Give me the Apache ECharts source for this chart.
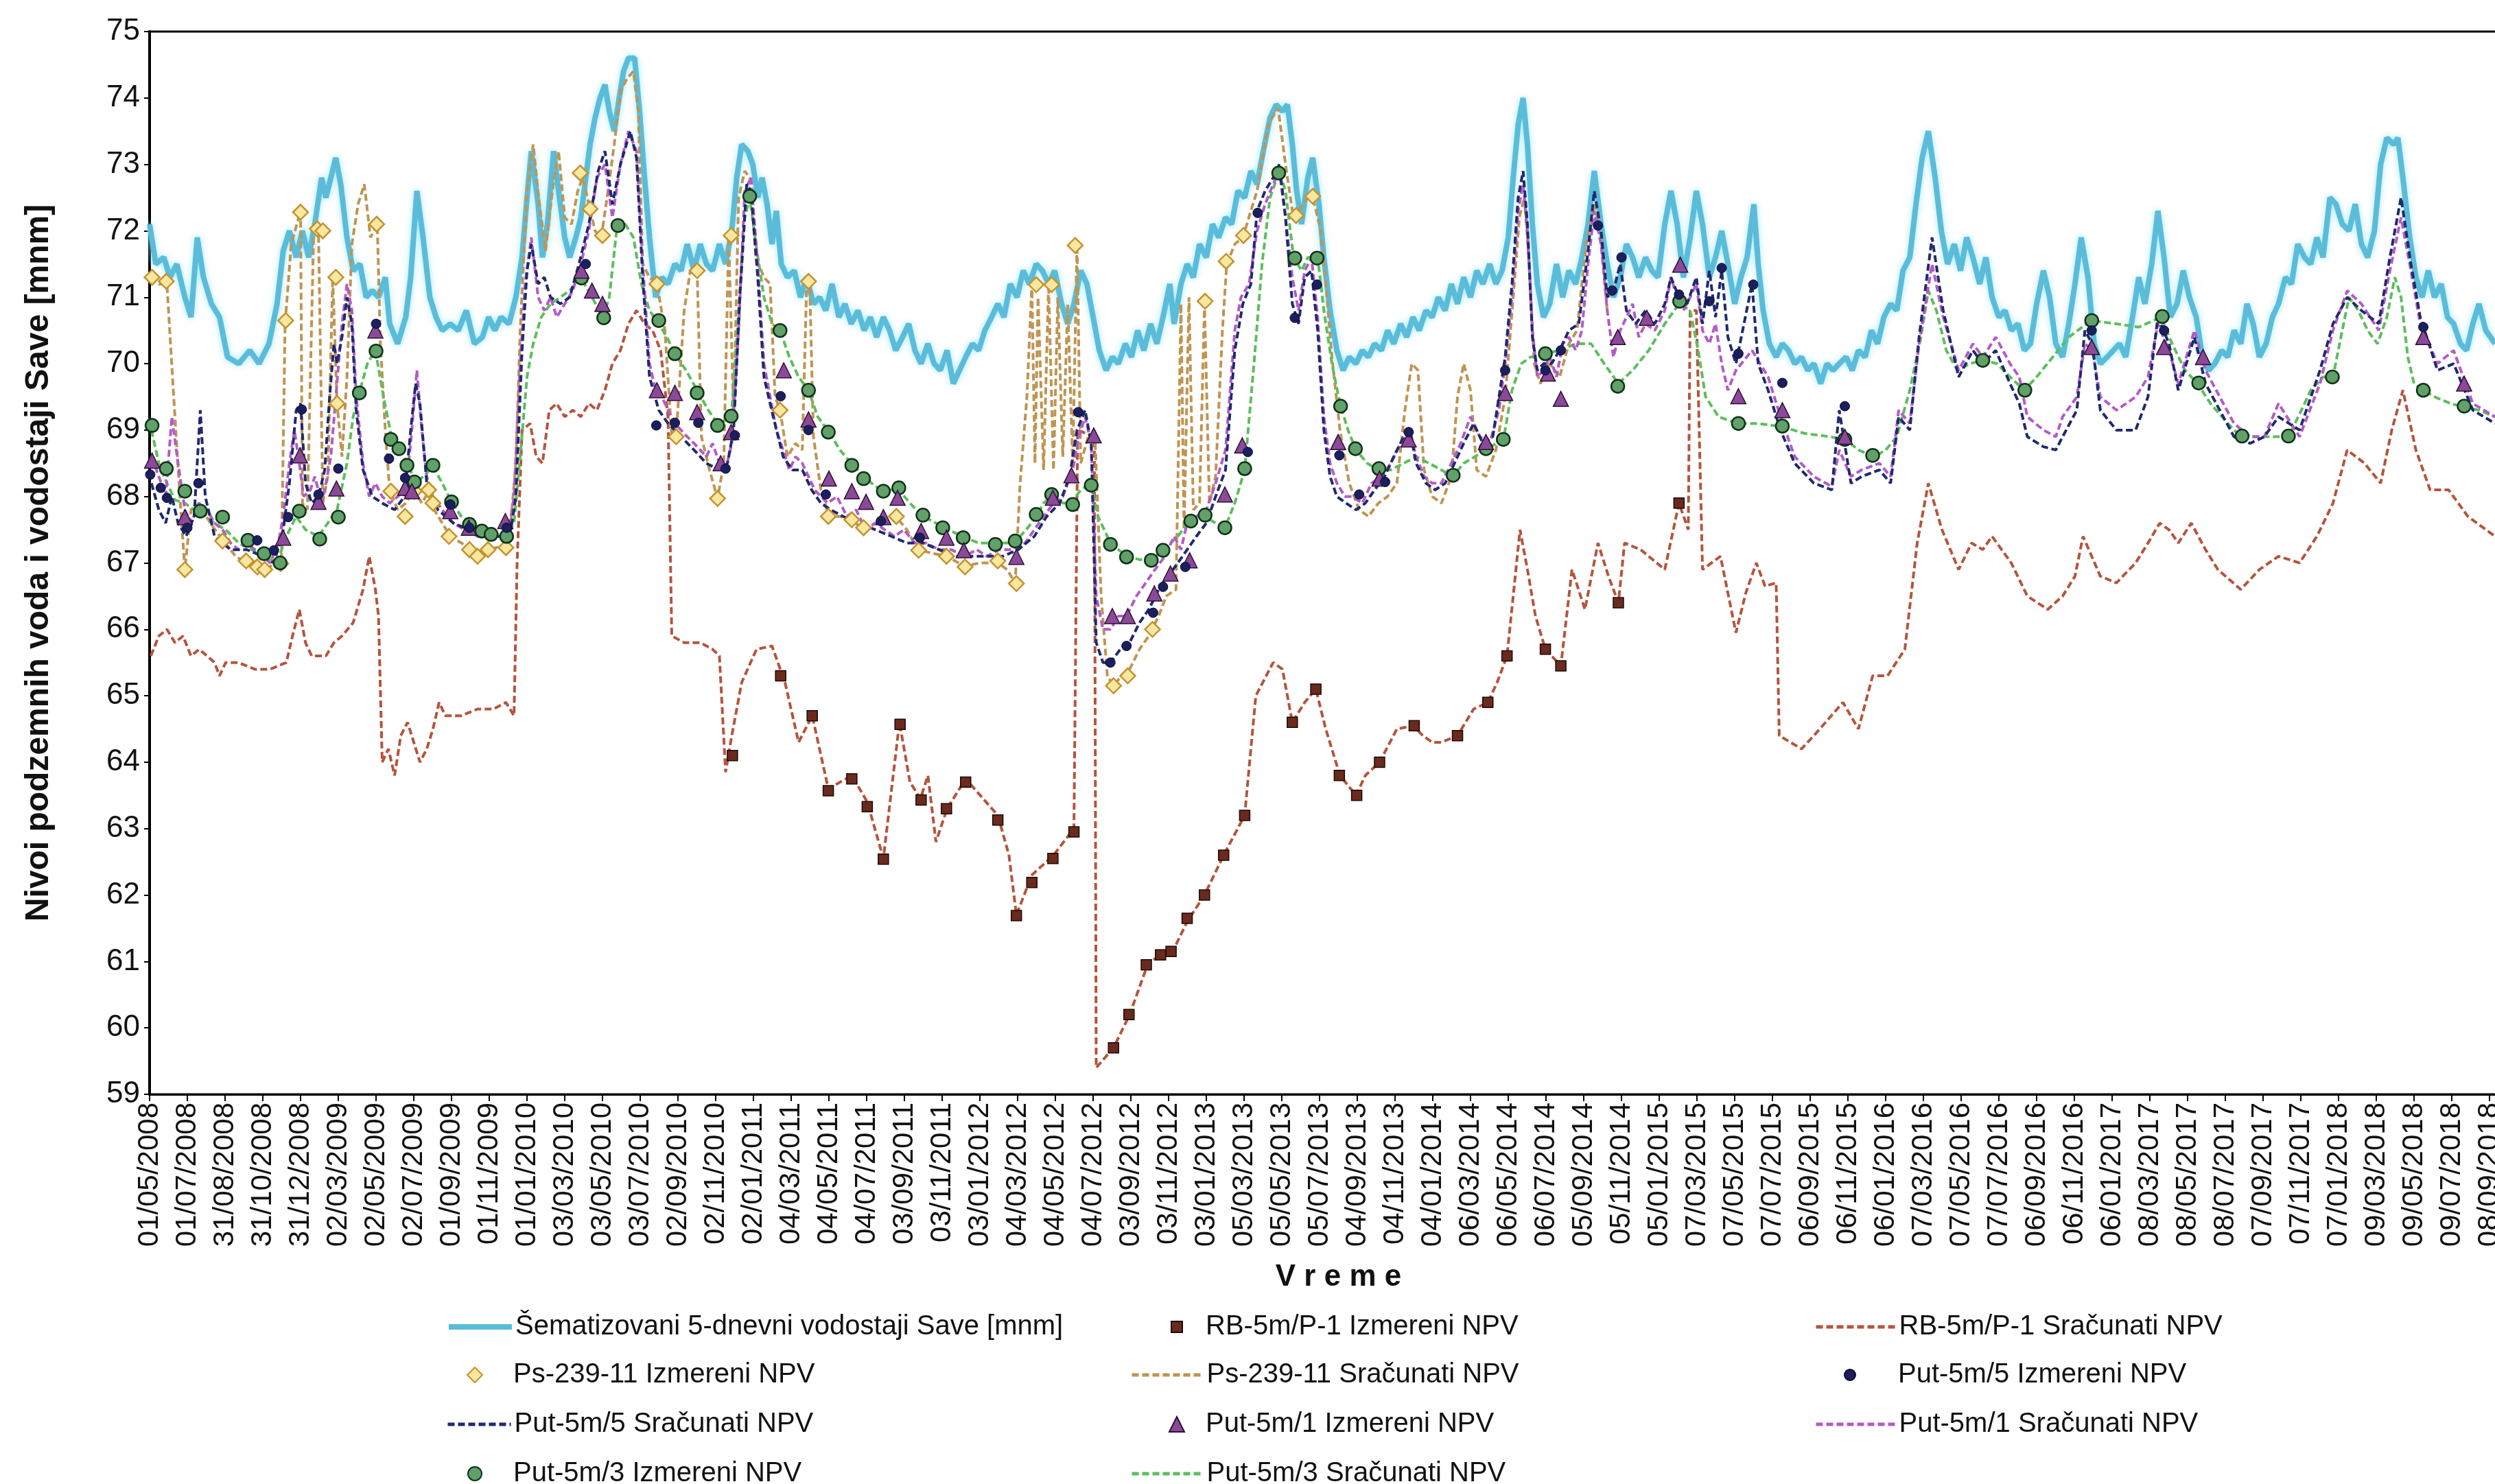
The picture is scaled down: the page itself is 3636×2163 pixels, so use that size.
<!DOCTYPE html>
<html>
<head>
<meta charset="utf-8">
<script src="https://cdn.jsdelivr.net/npm/echarts@6/dist/echarts.min.js"></script>
<style>
html,body{margin:0;background:#fff}
#chart{width:3636px;height:2163px}
</style>
</head>
<body>
<div id="chart"></div>
<script>
// x = days since 01/05/2008, y = level [mnm]
const tickLabels = ['01/05/2008','01/07/2008','31/08/2008','31/10/2008','31/12/2008','02/03/2009','02/05/2009','02/07/2009','01/09/2009','01/11/2009',
  '01/01/2010','03/03/2010','03/05/2010','03/07/2010','02/09/2010','02/11/2010','02/01/2011','04/03/2011','04/05/2011','04/07/2011',
  '03/09/2011','03/11/2011','03/01/2012','04/03/2012','04/05/2012','04/07/2012','03/09/2012','03/11/2012','03/01/2013','05/03/2013',
  '05/05/2013','05/07/2013','04/09/2013','04/11/2013','04/01/2014','06/03/2014','06/05/2014','06/07/2014','05/09/2014','05/11/2014',
  '05/01/2015','07/03/2015','07/05/2015','07/07/2015','06/09/2015','06/11/2015','06/01/2016','07/03/2016','07/05/2016','07/07/2016',
  '06/09/2016','06/11/2016','06/01/2017','08/03/2017','08/05/2017','08/07/2017','07/09/2017','07/11/2017','07/01/2018','09/03/2018',
  '09/05/2018','09/07/2018','08/09/2018'];

const savaLevels = [[0,72.1],[10,71.5],[23,71.6],[33,71.3],[44,71.5],[57,71.0],[67,70.7],[77,71.9],[87,71.3],[100,70.9],[113,70.7],[126,70.1],[144,70.0],[162,70.2],[177,70.0],[193,70.3],[206,70.9],[216,71.7],[226,72.0],[237,71.6],[247,72.0],[257,71.6],[267,72.1],[278,72.8],[285,72.5],[293,72.8],[301,73.1],[309,72.7],[319,71.9],[329,71.4],[340,71.5],[350,71.0],[360,71.1],[370,71.0],[381,71.3],[388,70.6],[401,70.3],[414,70.7],[422,71.3],[432,72.6],[442,71.9],[453,71.0],[463,70.7],[473,70.5],[486,70.6],[499,70.5],[512,70.8],[525,70.3],[538,70.4],[548,70.7],[558,70.5],[568,70.7],[581,70.6],[592,71.0],[602,71.6],[610,72.5],[617,73.2],[628,72.4],[635,71.6],[643,72.1],[653,73.2],[661,72.6],[671,71.9],[679,71.6],[689,71.9],[697,72.2],[705,72.8],[712,73.3],[720,73.7],[728,74.0],[736,74.2],[743,73.8],[751,73.5],[759,74.0],[766,74.4],[774,74.6],[784,74.6],[792,73.8],[800,72.8],[808,71.9],[818,71.0],[828,71.3],[838,71.2],[849,71.5],[859,71.4],[869,71.8],[880,71.4],[890,71.8],[900,71.5],[910,71.4],[921,71.8],[931,71.5],[941,72.0],[949,72.8],[957,73.3],[967,73.2],[975,73.0],[983,72.5],[990,72.8],[998,72.4],[1006,71.8],[1013,72.3],[1021,71.5],[1031,71.3],[1042,71.4],[1052,71.0],[1062,71.3],[1073,70.9],[1083,71.0],[1093,70.8],[1103,71.2],[1114,70.7],[1124,70.9],[1134,70.6],[1145,70.8],[1155,70.5],[1165,70.7],[1175,70.4],[1186,70.7],[1196,70.5],[1206,70.2],[1217,70.4],[1227,70.6],[1237,70.2],[1247,70.0],[1258,70.3],[1268,70.0],[1278,69.9],[1289,70.2],[1299,69.7],[1309,69.9],[1319,70.1],[1330,70.3],[1340,70.2],[1350,70.5],[1361,70.7],[1371,70.9],[1381,70.7],[1391,71.2],[1402,71.0],[1412,71.4],[1422,71.2],[1433,71.5],[1443,71.4],[1453,71.2],[1463,71.4],[1474,70.9],[1484,70.6],[1494,70.9],[1505,71.4],[1515,71.2],[1525,70.7],[1535,70.2],[1546,69.9],[1556,70.1],[1566,70.0],[1577,70.3],[1587,70.1],[1597,70.5],[1607,70.2],[1618,70.6],[1628,70.3],[1638,70.7],[1649,71.2],[1656,70.6],[1667,71.2],[1677,71.5],[1687,71.3],[1697,71.8],[1708,71.6],[1718,72.1],[1728,71.9],[1739,72.2],[1749,72.1],[1759,72.6],[1770,72.5],[1780,72.9],[1790,72.7],[1800,73.2],[1811,73.7],[1821,73.9],[1831,73.8],[1839,73.9],[1847,73.3],[1854,72.6],[1862,72.1],[1872,72.8],[1880,73.1],[1890,72.4],[1898,71.6],[1908,70.8],[1919,70.2],[1929,69.9],[1939,70.1],[1950,70.0],[1960,70.2],[1970,70.1],[1980,70.3],[1991,70.2],[2001,70.5],[2011,70.3],[2022,70.6],[2032,70.4],[2042,70.7],[2052,70.5],[2063,70.8],[2073,70.7],[2083,71.0],[2094,70.8],[2104,71.2],[2114,70.9],[2124,71.3],[2135,71.0],[2145,71.4],[2155,71.2],[2166,71.5],[2176,71.2],[2186,71.4],[2196,71.9],[2204,72.8],[2212,73.6],[2220,74.0],[2227,73.3],[2235,72.1],[2243,71.2],[2253,70.7],[2263,70.9],[2274,71.5],[2284,71.0],[2294,71.4],[2305,71.2],[2315,71.6],[2325,72.1],[2335,72.9],[2346,72.1],[2356,71.5],[2366,71.0],[2377,71.3],[2387,71.8],[2397,71.6],[2407,71.3],[2418,71.6],[2428,71.4],[2438,71.3],[2449,72.1],[2459,72.6],[2469,72.1],[2479,71.3],[2490,71.9],[2500,72.6],[2510,72.1],[2521,71.3],[2531,71.6],[2541,72.0],[2551,71.5],[2562,70.9],[2572,71.3],[2582,71.6],[2593,72.4],[2600,71.5],[2608,70.8],[2618,70.3],[2629,70.1],[2639,70.3],[2649,70.2],[2659,70.0],[2670,70.1],[2680,69.9],[2690,70.0],[2701,69.7],[2711,70.0],[2721,69.9],[2731,70.0],[2742,70.1],[2752,69.9],[2762,70.2],[2773,70.1],[2783,70.5],[2793,70.3],[2803,70.7],[2814,70.9],[2824,70.8],[2834,71.4],[2845,71.6],[2855,72.4],[2865,73.1],[2875,73.5],[2886,72.8],[2896,72.0],[2906,71.5],[2917,71.8],[2927,71.4],[2937,71.9],[2947,71.6],[2958,71.2],[2968,71.6],[2978,71.0],[2989,70.7],[2999,70.8],[3009,70.5],[3020,70.6],[3030,70.2],[3040,70.3],[3050,70.9],[3061,71.4],[3071,71.0],[3081,70.3],[3092,70.1],[3102,70.6],[3112,71.2],[3122,71.9],[3133,71.3],[3143,70.3],[3153,70.0],[3164,70.1],[3174,70.2],[3184,70.3],[3194,70.1],[3205,70.7],[3215,71.3],[3225,70.9],[3236,71.5],[3246,72.3],[3256,71.6],[3266,70.7],[3277,70.9],[3287,71.4],[3297,71.0],[3308,70.7],[3318,70.1],[3328,69.9],[3338,70.0],[3349,70.2],[3359,70.1],[3369,70.5],[3380,70.3],[3390,70.9],[3400,70.6],[3410,70.1],[3421,70.3],[3431,70.7],[3441,70.9],[3452,71.3],[3462,71.2],[3472,71.8],[3483,71.6],[3493,71.5],[3503,71.9],[3513,71.6],[3524,72.5],[3534,72.4],[3544,72.1],[3555,72.0],[3565,72.4],[3575,71.8],[3585,71.6],[3596,72.0],[3606,73.0],[3616,73.4],[3627,73.3],[3634,73.4],[3642,72.8],[3653,71.9],[3663,71.3],[3673,71.0],[3683,71.4],[3693,71.0],[3704,71.2],[3714,70.7],[3724,70.6],[3735,70.3],[3745,70.2],[3755,70.6],[3765,70.9],[3776,70.5],[3791,70.3]];

const rbCalc = [[2,65.6],[15,65.9],[28,66.0],[41,65.8],[54,65.9],[67,65.6],[80,65.7],[93,65.6],[105,65.5],[113,65.3],[123,65.5],[144,65.5],[170,65.4],[195,65.4],[221,65.5],[231,65.9],[242,66.3],[252,65.8],[262,65.6],[285,65.6],[298,65.8],[311,65.9],[329,66.1],[345,66.6],[355,67.1],[365,66.6],[370,66.2],[376,64.0],[386,64.2],[396,63.8],[406,64.4],[417,64.6],[427,64.3],[437,64.0],[448,64.2],[458,64.5],[468,64.9],[478,64.7],[504,64.7],[530,64.8],[556,64.8],[576,64.9],[589,64.7],[594,67.0],[602,69.0],[615,69.1],[625,68.6],[635,68.5],[646,69.3],[658,69.4],[671,69.2],[684,69.3],[697,69.2],[710,69.4],[723,69.3],[736,69.6],[748,70.0],[761,70.2],[774,70.6],[787,70.8],[800,70.6],[813,70.5],[826,70.2],[838,69.2],[844,65.9],[864,65.8],[890,65.8],[910,65.7],[921,65.6],[931,63.85],[941,64.4],[957,65.2],[981,65.7],[1006,65.75],[1027,65.2],[1049,64.3],[1071,64.7],[1097,63.6],[1135,63.8],[1160,63.4],[1186,62.55],[1212,64.6],[1229,63.7],[1246,63.45],[1258,63.8],[1271,62.8],[1289,63.3],[1319,63.75],[1371,63.2],[1389,62.6],[1401,61.7],[1426,62.3],[1461,62.6],[1494,63.0],[1500,69.0],[1527,68.9],[1530,59.4],[1558,59.7],[1584,60.2],[1613,60.95],[1633,61.1],[1651,61.1],[1677,61.6],[1705,62.0],[1736,62.6],[1770,63.2],[1788,65.0],[1816,65.5],[1831,65.4],[1847,64.6],[1867,64.9],[1885,65.1],[1901,64.5],[1924,63.8],[1950,63.5],[1965,63.8],[1988,64.0],[2016,64.5],[2042,64.55],[2058,64.4],[2073,64.3],[2088,64.3],[2114,64.4],[2140,64.8],[2163,64.9],[2178,65.2],[2194,65.6],[2204,66.5],[2215,67.5],[2227,66.9],[2240,66.2],[2256,65.7],[2281,65.45],[2299,66.9],[2320,66.3],[2341,67.3],[2358,66.8],[2374,66.4],[2384,67.3],[2410,67.2],[2449,66.9],[2472,67.9],[2487,67.5],[2490,70.8],[2500,70.8],[2510,66.9],[2539,67.1],[2564,65.95],[2580,66.55],[2597,67.0],[2611,66.65],[2629,66.7],[2634,64.4],[2670,64.2],[2690,64.4],[2737,64.9],[2762,64.5],[2785,65.3],[2809,65.3],[2837,65.7],[2857,67.3],[2875,68.2],[2897,67.5],[2924,66.9],[2945,67.3],[2963,67.2],[2978,67.4],[3009,67.0],[3035,66.5],[3068,66.3],[3092,66.5],[3112,66.8],[3125,67.4],[3153,66.8],[3179,66.7],[3210,67.0],[3230,67.3],[3249,67.6],[3264,67.5],[3279,67.3],[3300,67.6],[3323,67.2],[3343,66.9],[3380,66.6],[3410,66.9],[3441,67.1],[3475,67.0],[3503,67.4],[3529,67.9],[3552,68.7],[3580,68.5],[3606,68.2],[3624,69.0],[3642,69.6],[3663,68.7],[3686,68.1],[3716,68.1],[3747,67.7],[3791,67.4]];

const rbMeasured = [[942,64.1],[1020,65.3],[1071,64.7],[1097,63.57],[1135,63.75],[1160,63.33],[1186,62.54],[1213,64.57],[1247,63.43],[1288,63.3],[1319,63.7],[1371,63.13],[1401,61.69],[1426,62.19],[1460,62.55],[1494,62.95],[1558,59.7],[1583,60.2],[1611,60.95],[1634,61.1],[1651,61.15],[1677,61.65],[1705,62.0],[1736,62.6],[1770,63.2],[1847,64.6],[1885,65.1],[1923,63.8],[1951,63.5],[1988,64.0],[2044,64.55],[2114,64.4],[2163,64.9],[2194,65.6],[2256,65.7],[2281,65.45],[2374,66.4],[2472,67.9]];

const psCalc = [[2,71.3],[15,71.2],[28,71.2],[39,69.5],[49,68.0],[57,66.9],[67,67.8],[80,67.9],[98,67.6],[118,67.35],[139,67.1],[157,67.0],[175,66.95],[188,66.9],[203,67.0],[213,67.0],[219,70.6],[229,71.8],[244,72.3],[247,67.9],[255,67.8],[265,71.9],[273,72.0],[280,67.9],[288,68.3],[296,71.3],[303,69.4],[311,68.6],[319,69.8],[327,71.8],[337,72.4],[347,72.7],[357,71.9],[368,72.1],[373,70.3],[381,69.0],[388,68.1],[401,67.8],[414,67.9],[427,68.1],[440,67.9],[453,68.1],[460,67.8],[473,67.6],[486,67.4],[504,67.3],[520,67.2],[535,67.1],[550,67.2],[566,67.25],[581,67.3],[592,68.5],[599,70.5],[610,72.6],[620,73.3],[630,72.4],[640,71.7],[651,72.6],[661,73.2],[671,72.2],[682,72.1],[692,72.6],[700,72.8],[710,72.4],[720,72.0],[730,71.9],[741,72.6],[751,73.3],[761,74.1],[772,74.3],[782,74.4],[790,73.8],[797,71.5],[808,71.3],[820,71.2],[833,70.5],[844,68.9],[851,68.9],[864,70.8],[874,71.4],[885,71.4],[892,68.9],[905,68.4],[918,67.97],[928,68.5],[936,71.9],[944,69.2],[952,72.5],[962,72.9],[970,72.8],[980,71.6],[993,71.3],[1003,71.2],[1011,69.5],[1019,69.3],[1031,68.6],[1044,68.8],[1055,68.7],[1062,71.2],[1067,71.2],[1073,68.9],[1085,68.1],[1098,67.7],[1116,67.7],[1134,67.65],[1155,67.5],[1173,67.6],[1191,67.7],[1206,67.7],[1224,67.5],[1242,67.2],[1263,67.15],[1289,67.1],[1317,66.95],[1342,67.0],[1371,67.0],[1386,66.9],[1399,66.7],[1407,68.2],[1418,69.5],[1426,71.2],[1431,68.5],[1436,71.0],[1445,68.4],[1453,71.2],[1461,68.4],[1468,71.0],[1476,68.6],[1484,70.9],[1492,68.5],[1499,71.8],[1505,68.5],[1517,68.9],[1528,68.9],[1538,66.5],[1548,65.3],[1558,65.15],[1571,65.3],[1584,65.4],[1600,65.7],[1615,65.9],[1631,66.2],[1643,66.5],[1659,66.6],[1667,70.9],[1672,67.5],[1680,71.0],[1687,67.8],[1697,67.9],[1705,70.9],[1713,67.9],[1723,68.3],[1734,70.5],[1741,71.5],[1754,71.8],[1767,71.9],[1780,72.3],[1790,72.6],[1808,73.6],[1824,73.85],[1836,73.0],[1847,72.3],[1857,72.3],[1872,72.5],[1883,72.4],[1893,72.0],[1903,71.0],[1911,70.1],[1924,69.0],[1939,68.2],[1955,67.8],[1970,67.7],[1986,67.9],[2001,68.0],[2016,68.2],[2029,69.3],[2040,70.0],[2050,69.9],[2060,68.4],[2073,68.0],[2088,67.9],[2104,68.3],[2114,69.5],[2124,70.0],[2135,69.6],[2145,68.4],[2160,68.3],[2176,68.7],[2191,69.5],[2204,71.0],[2214,72.2],[2222,72.5],[2230,71.5],[2238,70.0],[2248,69.7],[2263,70.0],[2279,69.8],[2294,70.3],[2307,70.5],[2322,71.8],[2335,72.4],[2346,71.9],[2356,70.8]];

const psMeasured = [[4,71.3],[27,71.24],[57,66.9],[118,67.33],[156,67.03],[174,66.94],[186,66.9],[212,66.99],[220,70.65],[244,72.28],[271,72.03],[280,72.0],[301,71.3],[303,69.4],[367,72.1],[390,68.08],[413,67.7],[428,68.08],[451,68.1],[458,67.9],[484,67.4],[517,67.2],[530,67.1],[547,67.2],[576,67.23],[696,72.87],[712,72.33],[732,71.93],[820,71.2],[851,68.9],[885,71.4],[918,67.97],[940,71.93],[1019,69.3],[1065,71.24],[1097,67.7],[1135,67.65],[1154,67.53],[1207,67.7],[1243,67.19],[1288,67.1],[1318,66.94],[1371,67.03],[1401,66.69],[1433,71.19],[1458,71.19],[1496,71.78],[1558,65.15],[1581,65.3],[1621,66.0],[1706,70.94],[1740,71.54],[1768,71.93],[1853,72.23],[1880,72.52]];

const put5Calc = [[3,68.2],[15,67.8],[26,67.6],[36,68.0],[46,67.6],[59,67.4],[72,67.7],[82,69.3],[90,68.0],[105,67.4],[131,67.2],[157,67.2],[183,67.1],[201,67.0],[216,67.5],[226,68.2],[237,69.3],[244,69.4],[252,68.2],[262,67.9],[273,68.0],[283,68.4],[291,69.5],[298,70.3],[303,70.0],[311,70.4],[319,71.0],[327,70.6],[334,69.3],[345,68.4],[360,68.0],[376,67.9],[396,67.8],[412,68.0],[422,69.0],[430,69.7],[437,69.4],[448,68.2],[466,67.8],[491,67.6],[517,67.5],[543,67.4],[568,67.4],[584,67.5],[592,68.0],[602,70.2],[610,71.4],[617,71.8],[628,71.2],[638,71.3],[648,71.0],[664,70.9],[679,71.0],[694,71.5],[710,72.1],[725,72.9],[736,73.2],[748,72.4],[761,73.0],[777,73.5],[787,73.1],[797,71.3],[808,69.8],[823,69.3],[838,69.1],[859,68.9],[880,68.7],[900,68.5],[921,68.4],[934,68.5],[944,69.0],[954,71.0],[965,72.7],[972,72.6],[983,71.3],[993,69.8],[1008,69.2],[1024,68.6],[1039,68.4],[1055,68.4],[1070,68.1],[1085,67.9],[1101,67.8],[1121,67.7],[1147,67.6],[1173,67.5],[1199,67.4],[1224,67.3],[1250,67.3],[1276,67.2],[1301,67.1],[1327,67.1],[1353,67.1],[1379,67.1],[1404,67.2],[1430,67.4],[1450,67.7],[1471,67.9],[1487,68.3],[1499,69.0],[1512,69.3],[1522,68.8],[1530,65.8],[1541,65.5],[1553,65.5],[1569,65.7],[1584,65.8],[1600,66.1],[1615,66.3],[1631,66.6],[1646,66.8],[1662,67.0],[1677,67.2],[1692,67.4],[1708,67.6],[1723,68.0],[1739,68.4],[1754,70.2],[1767,70.9],[1780,71.2],[1790,72.3],[1803,72.6],[1816,72.8],[1826,73.0],[1836,72.2],[1847,70.9],[1857,70.6],[1867,71.3],[1878,71.4],[1888,70.5],[1898,69.0],[1908,68.3],[1919,68.0],[1934,67.9],[1950,67.8],[1965,67.9],[1980,68.1],[1996,68.3],[2011,68.6],[2027,68.9],[2037,69.0],[2047,68.5],[2063,68.2],[2078,68.1],[2094,68.2],[2109,68.5],[2124,68.8],[2140,69.1],[2155,68.8],[2171,68.9],[2181,69.5],[2191,70.1],[2202,71.2],[2212,72.5],[2220,72.9],[2227,72.1],[2235,70.4],[2243,69.9],[2253,70.0],[2266,70.0],[2279,70.2],[2294,70.5],[2310,70.6],[2325,71.7],[2335,72.6],[2346,72.0],[2356,71.0],[2366,71.1],[2377,71.5],[2387,70.8],[2402,70.6],[2418,70.8],[2433,70.6],[2449,70.9],[2459,71.3],[2472,71.0],[2485,70.9],[2500,71.3],[2510,70.6],[2521,71.4],[2531,70.7],[2541,71.4],[2551,70.4],[2564,70.0],[2590,71.2],[2600,70.0],[2616,69.6],[2636,69.0],[2659,68.5],[2690,68.2],[2719,68.1],[2731,69.3],[2750,68.2],[2767,68.3],[2796,68.4],[2814,68.2],[2827,69.2],[2845,69.0],[2860,70.4],[2881,71.9],[2899,70.8],[2924,69.8],[2947,70.2],[2963,70.0],[2984,70.2],[3007,69.7],[3022,69.4],[3035,68.9],[3061,68.75],[3081,68.7],[3092,68.9],[3115,69.3],[3128,70.5],[3140,70.3],[3153,69.3],[3179,69.0],[3210,69.0],[3230,69.5],[3246,70.7],[3264,70.3],[3279,69.6],[3305,70.4],[3323,69.7],[3346,69.3],[3369,68.9],[3395,68.8],[3418,68.9],[3441,69.2],[3475,69.0],[3508,69.9],[3529,70.6],[3552,71.0],[3575,70.8],[3603,70.6],[3621,71.6],[3639,72.5],[3655,71.5],[3670,70.7],[3698,69.9],[3724,70.0],[3755,69.3],[3791,69.1]];

const put5Measured = [[1,68.33],[18,68.13],[28,67.98],[61,67.53],[79,68.2],[174,67.34],[201,67.19],[224,67.69],[246,69.31],[273,68.03],[305,68.42],[366,70.6],[387,68.57],[413,68.28],[486,67.88],[517,67.53],[577,67.53],[705,71.5],[819,69.07],[849,69.11],[887,69.11],[931,68.42],[946,68.92],[1020,69.51],[1065,69.0],[1093,68.03],[1182,67.63],[1245,67.38],[1501,69.27],[1553,65.5],[1579,65.75],[1622,66.25],[1638,66.64],[1674,66.94],[1775,68.67],[1791,72.27],[1851,70.69],[1887,71.19],[1923,68.62],[1955,68.03],[1997,68.22],[2035,68.97],[2191,69.9],[2256,69.9],[2281,70.2],[2341,72.08],[2364,71.1],[2379,71.6],[2472,71.04],[2521,70.94],[2541,71.44],[2568,70.15],[2592,71.19],[2639,69.71],[2740,69.36],[3139,70.5],[3256,70.5],[3675,70.55]];

const put1Calc = [[3,68.6],[15,68.3],[26,68.0],[36,69.2],[46,68.5],[57,67.8],[67,67.6],[80,67.9],[93,67.8],[105,67.6],[118,67.5],[131,67.3],[144,67.2],[157,67.3],[170,67.2],[183,67.1],[195,67.0],[208,67.3],[216,67.7],[226,68.5],[234,69.0],[242,68.5],[249,68.0],[260,68.1],[267,68.3],[278,67.9],[285,68.2],[293,68.6],[301,69.5],[311,70.6],[319,71.2],[327,70.8],[334,69.5],[345,68.5],[355,68.0],[365,68.2],[376,68.0],[388,67.9],[401,68.0],[414,68.1],[422,68.8],[432,69.9],[440,69.0],[448,68.3],[458,68.0],[473,67.8],[491,67.6],[509,67.5],[530,67.4],[550,67.4],[568,67.4],[581,67.5],[589,68.0],[599,70.0],[607,71.2],[617,71.9],[628,71.0],[638,70.8],[648,71.0],[658,70.7],[671,70.9],[684,71.1],[697,71.5],[710,72.0],[723,72.8],[736,73.0],[748,72.2],[761,73.0],[774,73.5],[787,73.2],[797,71.5],[808,70.0],[818,69.6],[828,69.5],[838,69.3],[849,69.1],[859,69.0],[869,68.9],[880,68.8],[890,68.7],[900,68.6],[910,68.8],[921,68.5],[931,68.4],[941,68.8],[952,70.5],[962,72.6],[972,72.8],[983,71.5],[993,70.0],[1003,69.5],[1013,69.0],[1024,68.7],[1034,68.4],[1044,68.6],[1055,68.5],[1065,68.3],[1075,68.1],[1085,68.0],[1096,67.9],[1111,68.0],[1127,67.7],[1142,67.8],[1157,67.5],[1173,67.6],[1188,67.5],[1204,67.4],[1219,67.5],[1237,67.3],[1255,67.3],[1276,67.2],[1296,67.2],[1317,67.1],[1337,67.2],[1353,67.1],[1373,67.2],[1394,67.2],[1415,67.3],[1430,67.5],[1445,67.7],[1461,67.9],[1476,68.0],[1492,68.4],[1502,68.9],[1512,69.2],[1522,68.8],[1530,66.5],[1541,66.0],[1553,66.0],[1566,66.2],[1579,66.2],[1595,66.5],[1610,66.7],[1625,66.9],[1641,67.1],[1656,67.4],[1667,67.2],[1677,67.6],[1692,67.7],[1708,67.8],[1723,68.2],[1739,68.7],[1754,70.5],[1764,71.0],[1777,71.2],[1790,72.0],[1803,72.4],[1816,72.7],[1826,72.9],[1836,72.2],[1847,71.3],[1857,70.8],[1867,71.4],[1878,71.6],[1888,70.7],[1898,69.2],[1908,68.5],[1919,68.2],[1932,68.0],[1944,68.0],[1960,67.9],[1975,68.2],[1991,68.3],[2006,68.5],[2022,68.8],[2037,69.0],[2047,68.6],[2060,68.3],[2073,68.2],[2088,68.2],[2104,68.5],[2119,68.8],[2135,69.2],[2150,68.9],[2166,68.8],[2181,69.3],[2191,70.0],[2202,71.0],[2212,72.3],[2220,72.7],[2227,72.0],[2235,70.5],[2243,69.8],[2253,69.9],[2263,70.1],[2274,69.8],[2284,70.3],[2294,70.4],[2305,70.2],[2315,70.5],[2325,71.5],[2335,72.3],[2346,71.8],[2356,70.8],[2366,70.1],[2377,70.5],[2387,70.7],[2397,70.9],[2407,70.4],[2418,70.6],[2433,70.5],[2449,70.8],[2459,71.3],[2469,71.0],[2479,70.8],[2490,71.0],[2500,71.2],[2510,70.5],[2521,70.3],[2531,70.6],[2541,70.0],[2551,69.6],[2564,69.9],[2590,70.2],[2616,69.8],[2636,69.2],[2659,68.6],[2690,68.3],[2719,68.15],[2731,68.7],[2750,68.3],[2767,68.4],[2796,68.5],[2814,68.3],[2827,69.3],[2845,69.1],[2860,70.3],[2881,71.5],[2899,70.7],[2924,69.9],[2947,70.3],[2963,70.1],[2984,70.4],[3007,70.0],[3022,69.8],[3035,69.2],[3061,69.0],[3081,68.9],[3092,69.2],[3115,69.5],[3128,70.3],[3140,70.2],[3153,69.5],[3179,69.3],[3210,69.5],[3230,69.8],[3246,70.6],[3264,70.2],[3279,69.7],[3305,70.5],[3323,69.9],[3346,69.5],[3369,69.1],[3395,68.9],[3418,68.9],[3441,69.4],[3475,68.9],[3508,69.7],[3529,70.5],[3552,71.1],[3575,70.9],[3603,70.5],[3621,71.4],[3639,72.2],[3655,71.4],[3670,70.6],[3698,70.0],[3724,70.2],[3755,69.4],[3791,69.2]];

const put1Measured = [[4,68.54],[57,67.69],[216,67.38],[243,68.62],[273,67.92],[302,68.12],[365,70.5],[413,68.13],[424,68.08],[486,67.78],[516,67.53],[575,67.63],[698,71.4],[715,71.1],[732,70.9],[820,69.6],[849,69.56],[885,69.27],[923,68.5],[940,68.97],[1025,69.9],[1065,69.16],[1098,68.27],[1135,68.08],[1158,67.92],[1186,67.69],[1209,67.98],[1247,67.48],[1288,67.38],[1316,67.19],[1401,67.09],[1460,67.98],[1490,68.32],[1526,68.92],[1556,66.2],[1581,66.2],[1624,66.54],[1650,66.84],[1681,67.04],[1738,68.03],[1766,68.77],[1921,68.82],[1988,68.27],[2035,68.86],[2160,68.82],[2191,69.56],[2260,69.85],[2281,69.47],[2373,70.4],[2420,70.69],[2474,71.49],[2568,69.51],[2639,69.3],[2740,68.9],[3139,70.25],[3256,70.25],[3319,70.1],[3675,70.4],[3741,69.7]];

const put3Calc = [[3,69.0],[15,68.5],[28,68.2],[41,67.95],[57,67.9],[72,67.8],[87,67.75],[105,67.6],[123,67.5],[144,67.3],[165,67.2],[185,67.1],[206,67.0],[221,67.4],[237,67.7],[252,67.5],[273,67.4],[288,67.6],[303,67.8],[319,68.5],[329,69.2],[340,69.6],[352,70.0],[365,70.2],[378,69.5],[391,68.9],[404,68.7],[417,68.5],[430,68.2],[442,68.3],[458,68.45],[473,68.2],[489,67.9],[504,67.7],[520,67.6],[538,67.5],[556,67.45],[576,67.4],[589,67.6],[599,68.6],[610,69.8],[620,70.3],[633,70.7],[648,70.9],[664,71.0],[679,71.1],[697,71.3],[715,71.0],[733,70.7],[743,71.0],[756,72.1],[769,72.1],[782,71.9],[795,71.2],[808,70.8],[823,70.6],[836,70.4],[849,70.15],[867,69.9],[885,69.6],[903,69.3],[918,69.1],[931,69.15],[941,69.3],[952,70.8],[962,72.2],[970,72.5],[980,71.8],[993,71.0],[1006,70.6],[1019,70.5],[1034,70.1],[1049,69.8],[1065,69.6],[1080,69.2],[1096,69.0],[1116,68.7],[1134,68.5],[1155,68.3],[1173,68.15],[1191,68.1],[1211,68.1],[1229,67.9],[1250,67.7],[1271,67.6],[1291,67.5],[1314,67.4],[1340,67.3],[1366,67.3],[1397,67.3],[1417,67.5],[1433,67.7],[1445,67.9],[1458,68.0],[1476,67.9],[1489,67.9],[1505,68.1],[1522,68.2],[1533,67.7],[1553,67.3],[1579,67.1],[1600,67.05],[1620,67.05],[1638,67.2],[1662,67.4],[1682,67.65],[1705,67.7],[1723,67.6],[1739,67.55],[1754,67.9],[1770,68.4],[1785,70.0],[1798,71.5],[1811,72.5],[1826,72.9],[1836,72.6],[1849,71.6],[1862,71.4],[1872,71.6],[1888,71.6],[1898,70.8],[1911,70.0],[1924,69.4],[1937,69.0],[1950,68.7],[1968,68.5],[1986,68.4],[2006,68.4],[2027,68.5],[2047,68.6],[2068,68.5],[2088,68.4],[2106,68.3],[2124,68.5],[2142,68.6],[2160,68.7],[2176,68.8],[2189,68.9],[2202,69.6],[2217,70.0],[2232,70.1],[2256,70.15],[2279,70.2],[2305,70.3],[2330,70.3],[2351,70.0],[2374,69.7],[2397,69.9],[2423,70.2],[2449,70.6],[2472,70.9],[2490,70.8],[2503,70.2],[2515,69.5],[2536,69.2],[2567,69.1],[2600,69.1],[2639,69.05],[2675,68.95],[2716,68.9],[2742,68.85],[2762,68.7],[2788,68.6],[2806,68.7],[2824,68.9],[2845,69.6],[2863,70.4],[2875,71.1],[2888,70.8],[2904,70.2],[2922,69.9],[2942,70.0],[2963,70.05],[2986,70.0],[3007,69.8],[3030,69.6],[3050,69.8],[3076,70.1],[3102,70.4],[3138,70.65],[3179,70.6],[3215,70.55],[3251,70.7],[3269,70.3],[3290,69.9],[3310,69.7],[3331,69.4],[3359,69.1],[3380,68.9],[3410,68.9],[3436,68.9],[3457,68.9],[3478,69.3],[3493,69.6],[3513,69.8],[3529,69.8],[3544,70.5],[3555,71.0],[3570,70.8],[3585,70.5],[3601,70.3],[3616,70.7],[3629,71.3],[3639,71.0],[3650,70.1],[3660,69.7],[3675,69.6],[3693,69.5],[3719,69.4],[3740,69.35],[3765,69.3],[3791,69.2]];

const put3Measured = [[4,69.07],[27,68.42],[57,68.08],[82,67.78],[118,67.69],[159,67.34],[185,67.14],[211,67.0],[242,67.78],[275,67.36],[305,67.69],[339,69.56],[366,70.19],[390,68.86],[403,68.72],[416,68.47],[428,68.22],[458,68.47],[488,67.92],[517,67.58],[537,67.48],[552,67.43],[577,67.4],[698,71.29],[734,70.69],[757,72.08],[823,70.65],[849,70.15],[885,69.56],[918,69.07],[940,69.21],[970,72.52],[1019,70.5],[1065,69.6],[1097,68.97],[1135,68.47],[1154,68.27],[1186,68.08],[1211,68.13],[1250,67.72],[1282,67.53],[1315,67.38],[1367,67.28],[1399,67.33],[1433,67.73],[1458,68.03],[1492,67.88],[1522,68.17],[1553,67.28],[1579,67.09],[1619,67.04],[1638,67.19],[1683,67.63],[1706,67.72],[1738,67.53],[1770,68.42],[1825,72.87],[1851,71.59],[1887,71.59],[1925,69.36],[1949,68.72],[1987,68.42],[2107,68.32],[2160,68.72],[2188,68.86],[2256,70.15],[2373,69.66],[2473,70.94],[2568,69.1],[2639,69.06],[2740,68.86],[2785,68.62],[2963,70.05],[3031,69.6],[3139,70.65],[3253,70.71],[3312,69.71],[3382,68.91],[3457,68.91],[3528,69.8],[3675,69.6],[3741,69.36]];

const FONT = 'Liberation Sans, Arial, sans-serif';
const chart = echarts.init(document.getElementById('chart'));

function calcLine(name, data, color) {
  return {
    name: name, type: 'line', data: data, symbol: 'none', showSymbol: false,
    lineStyle: { color: color, width: 4, type: [10, 5] },
    itemStyle: { color: color }, animation: false
  };
}
function measured(name, data, symbol, size, fill, border, bw) {
  return {
    name: name, type: 'scatter', data: data, symbol: symbol, symbolSize: size,
    itemStyle: { color: fill, borderColor: border, borderWidth: bw, opacity: 1 },
    animation: false, z: 5
  };
}

// one legend block per entry, laid out as the 3-column table under the chart
const rowTops = [1909, 1979, 2051, 2123];
function lineKey(name, left, row, width, lw) {
  return {
    left: left, top: rowTops[row], itemWidth: width, itemHeight: 20, selectedMode: false,
    itemStyle: { opacity: 0 }, lineStyle: { width: lw }, data: [name],
    textStyle: { fontFamily: FONT, fontSize: 40, color: '#111', lineHeight: 40 }
  };
}
function markKey(name, center, textX, row, size) {
  const left = center - size / 2;
  return {
    left: left, top: rowTops[row], itemWidth: size, itemHeight: size, selectedMode: false,
    data: [name],
    textStyle: { fontFamily: FONT, fontSize: 40, color: '#111', lineHeight: 40,
      padding: [0, 0, 0, textX - (left + size + 5)] }
  };
}

chart.setOption({
  backgroundColor: '#fff',
  textStyle: { fontFamily: FONT },
  grid: { left: 218, top: 46, right: -47, bottom: 568, show: true, borderColor: '#000', borderWidth: 3, outerBoundsMode: 'none' },
  legend: [
    lineKey('Šematizovani 5-dnevni vodostaji Save [mnm]', 645, 0, 92, 8),
    markKey('Ps-239-11 Izmereni NPV', 686, 742, 1, 22),
    lineKey('Put-5m/5 Sračunati NPV', 645, 2, 92, 5),
    markKey('Put-5m/3 Izmereni NPV', 686, 742, 3, 20),
    markKey('RB-5m/P-1 Izmereni NPV', 1709, 1751, 0, 16),
    lineKey('Ps-239-11 Sračunati NPV', 1642, 1, 104, 5),
    markKey('Put-5m/1 Izmereni NPV', 1709, 1751, 2, 22),
    lineKey('Put-5m/3 Sračunati NPV', 1642, 3, 104, 5),
    lineKey('RB-5m/P-1 Sračunati NPV', 2639, 0, 116, 5),
    markKey('Put-5m/5 Izmereni NPV', 2690, 2760, 1, 16),
    lineKey('Put-5m/1 Sračunati NPV', 2639, 2, 116, 5)
  ],
  xAxis: {
    type: 'value', min: 0, max: 3843, interval: 61,
    name: 'V r e m e', nameLocation: 'middle', nameGap: 245,
    nameTextStyle: { fontFamily: FONT, fontSize: 44, fontWeight: 'bold', color: '#111' },
    axisLine: { show: true, lineStyle: { color: '#000', width: 3 } },
    axisTick: { show: true, length: 10, lineStyle: { color: '#000', width: 2 } },
    splitLine: { show: false },
    axisLabel: { rotate: 90, margin: 12, fontSize: 42, color: '#111', fontFamily: FONT,
      formatter: v => tickLabels[Math.round(v / 61)] || '' }
  },
  yAxis: {
    type: 'value', min: 59, max: 75, interval: 1,
    name: 'Nivoi podzemnih voda i vodostaji Save [mnm]', nameLocation: 'middle', nameGap: 137,
    nameTextStyle: { fontFamily: FONT, fontSize: 48, fontWeight: 'bold', color: '#111' },
    axisLine: { show: true, lineStyle: { color: '#000', width: 4 } },
    axisTick: { show: true, length: 8, lineStyle: { color: '#000', width: 2 } },
    splitLine: { show: false },
    axisLabel: { margin: 14, fontSize: 44, color: '#111', fontFamily: FONT }
  },
  series: [
    { name: 'Šematizovani 5-dnevni vodostaji Save [mnm]', type: 'line', data: savaLevels,
      symbol: 'none', showSymbol: false, animation: false,
      lineStyle: { color: '#5BBCD9', width: 8, shadowBlur: 10, shadowColor: 'rgba(150,230,255,0.9)' },
      itemStyle: { color: '#5BBCD9' } },
    calcLine('RB-5m/P-1 Sračunati NPV', rbCalc, '#B4553D'),
    calcLine('Ps-239-11 Sračunati NPV', psCalc, '#BF9552'),
    calcLine('Put-5m/3 Sračunati NPV', put3Calc, '#5CBF5C'),
    calcLine('Put-5m/1 Sračunati NPV', put1Calc, '#B35BC8'),
    calcLine('Put-5m/5 Sračunati NPV', put5Calc, '#1F2A6E'),
    measured('RB-5m/P-1 Izmereni NPV', rbMeasured, 'rect', 15, '#6A2A1E', '#1C0A05', 1.5),
    measured('Ps-239-11 Izmereni NPV', psMeasured, 'diamond', 22, '#F8E7A0', '#C4922E', 2.5),
    measured('Put-5m/3 Izmereni NPV', put3Measured, 'circle', 19, '#62A06A', '#0E3318', 2.5),
    measured('Put-5m/1 Izmereni NPV', put1Measured, 'triangle', 22, '#8A4A98', '#2D0F35', 1.5),
    measured('Put-5m/5 Izmereni NPV', put5Measured, 'circle', 14, '#1B1F5E', '#0A0C30', 1)
  ]
});
</script>
</body>
</html>
